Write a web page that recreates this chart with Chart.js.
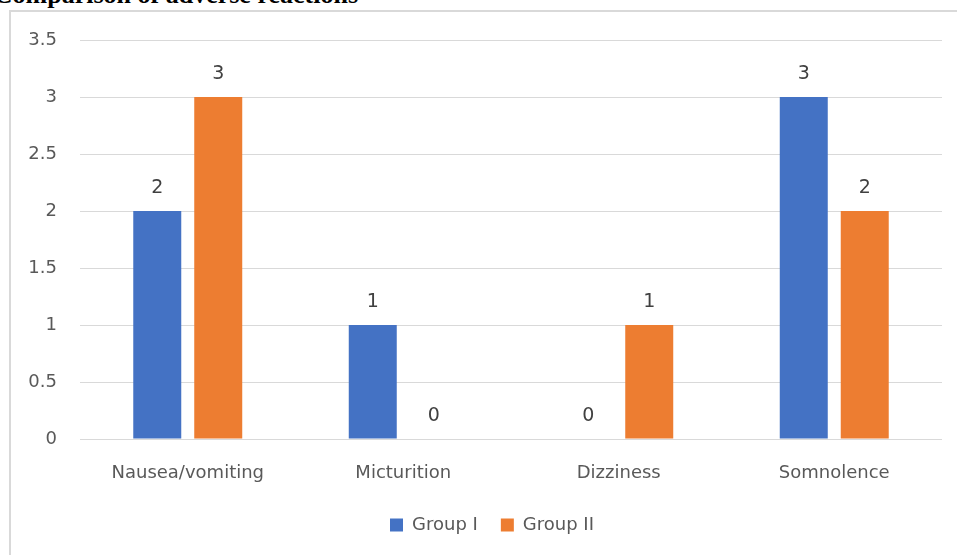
<!DOCTYPE html>
<html>
<head>
<meta charset="utf-8">
<script src="https://cdn.jsdelivr.net/npm/chart.js@4.4.1/dist/chart.umd.min.js"></script>
<style>
  html, body { margin: 0; padding: 0; background: #ffffff; }
  #wrap { position: relative; width: 957px; height: 555px; overflow: hidden; background: #fff; }
  #title { position: absolute; right: 599px; top: -18.5px; font-family: "Liberation Serif", "Times New Roman", serif; font-weight: bold; font-size: 26px; line-height: 26px; white-space: nowrap; color: #000; }
  #frame { position: absolute; left: 9px; top: 10px; width: 1100px; height: 700px; border: 2px solid #d9d9d9; box-sizing: border-box; }
  #c { position: absolute; left: 0; top: 0; }
</style>
</head>
<body>
<div id="wrap">
  <div id="title">Comparison of adverse reactions</div>
  <div id="frame"></div>
  <canvas id="c" width="957" height="555"></canvas>
</div>
<script>
const categories = ["Nausea/vomiting", "Micturition", "Dizziness", "Somnolence"];
const groupI = [2, 1, 0, 3];
const groupII = [3, 0, 1, 2];
const seriesNames = ["Group I", "Group II"];
const yTickLabels = ["0", "0.5", "1", "1.5", "2", "2.5", "3", "3.5"];

Chart.defaults.font.family = "'DejaVu Sans', sans-serif";
Chart.defaults.font.size = 18;
Chart.defaults.color = "#595959";

const valueLabels = {
  id: "valueLabels",
  afterDatasetsDraw(chart) {
    const ctx = chart.ctx;
    ctx.save();
    ctx.font = "19px 'DejaVu Sans', sans-serif";
    ctx.fillStyle = "#404040";
    ctx.textAlign = "center";
    ctx.textBaseline = "alphabetic";
    chart.data.datasets.forEach((ds, di) => {
      const meta = chart.getDatasetMeta(di);
      meta.data.forEach((el, i) => {
        ctx.fillText(String(ds.data[i]), el.x, el.y - 18);
      });
    });
    ctx.restore();
  }
};

const legendShift = {
  id: "legendShift",
  afterLayout(chart) {
    if (chart.legend) {
      chart.legend.left += 21;
      chart.legend.right += 21;
    }
  }
};

new Chart(document.getElementById("c"), {
  type: "bar",
  data: {
    labels: categories,
    datasets: [
      { label: seriesNames[0], data: groupI, backgroundColor: "#4472C4", categoryPercentage: 0.566, barPercentage: 0.787 },
      { label: seriesNames[1], data: groupII, backgroundColor: "#ED7D31", categoryPercentage: 0.566, barPercentage: 0.787 }
    ]
  },
  options: {
    responsive: false,
    animation: false,
    devicePixelRatio: 1,
    layout: { padding: { top: 40, right: 15, bottom: 11, left: 0 } },
    plugins: {
      legend: {
        position: "bottom",
        labels: { boxWidth: 13, boxHeight: 13, padding: 23, color: "#595959", font: { size: 18 } }
      },
      tooltip: { enabled: false }
    },
    scales: {
      x: {
        grid: { display: false },
        border: { display: false },
        ticks: { padding: 16, color: "#595959", maxRotation: 0 },
        afterFit(scale) { scale.height = 54; }
      },
      y: {
        min: 0,
        max: 3.5,
        grid: { color: "#d9d9d9", lineWidth: 1, drawTicks: false },
        border: { display: false },
        ticks: {
          stepSize: 0.5,
          padding: 23,
          color: "#595959",
          callback: (v, i) => yTickLabels[i]
        },
        afterFit(scale) { scale.width = 80; }
      }
    }
  },
  plugins: [valueLabels, legendShift]
});
</script>
</body>
</html>
